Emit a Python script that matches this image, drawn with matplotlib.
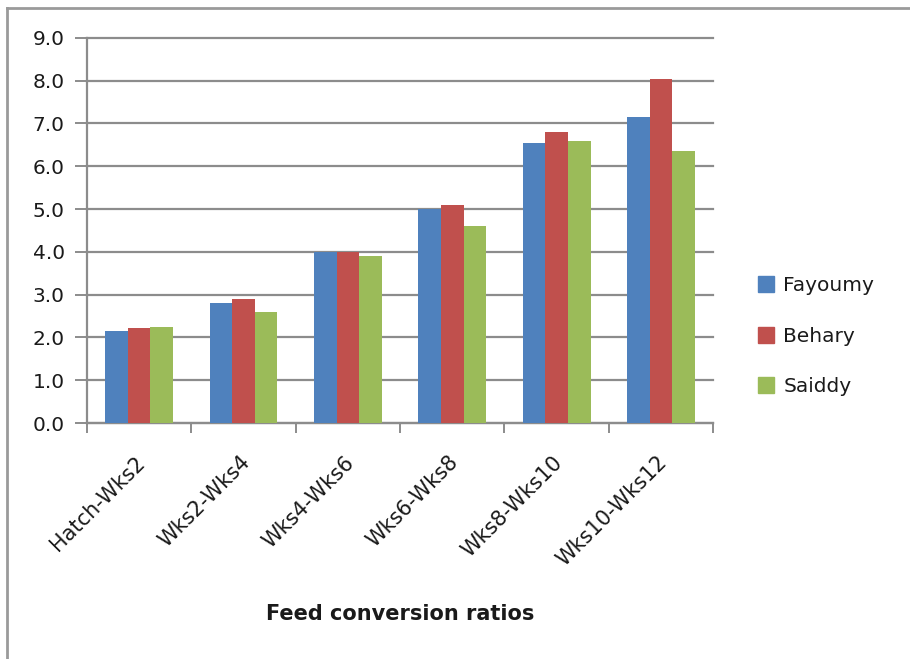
import numpy as np
import matplotlib
matplotlib.use("Agg")
import matplotlib.pyplot as plt
import matplotlib.transforms as mtransforms
from matplotlib.lines import Line2D

# Feed conversion ratio per age period for each breed
periods = ['Hatch-Wks2', 'Wks2-Wks4', 'Wks4-Wks6', 'Wks6-Wks8', 'Wks8-Wks10', 'Wks10-Wks12']
fayoumy = [2.16, 2.80, 4.00, 5.00, 6.55, 7.15]
behary = [2.21, 2.90, 4.00, 5.10, 6.80, 8.05]
saiddy = [2.25, 2.60, 3.90, 4.60, 6.60, 6.35]

series = [('Fayoumy', fayoumy, '#4F81BD'),
          ('Behary', behary, '#C0504D'),
          ('Saiddy', saiddy, '#9BBB59')]

grid_col = '#8C8C8C'
text_col = '#1a1a1a'
fs = 14.5

fig = plt.figure(figsize=(9.1, 6.59), dpi=100)
ax = fig.add_axes([0.0956, 0.358, 0.688, 0.5845])

x = np.arange(len(periods))
w = 0.217
for i, (name, vals, col) in enumerate(series):
    ax.bar(x + (i - 1) * w, vals, width=w, color=col, label=name, zorder=3)

ax.set_xlim(-0.5, len(periods) - 0.5)
ax.set_ylim(0, 9)
ax.set_yticks(np.arange(0, 9.1, 1))
ax.set_yticklabels([f'{v:.1f}' for v in np.arange(0, 9.1, 1)])
ax.yaxis.grid(True, color=grid_col, linewidth=1.6, zorder=0)
for gl in ax.get_ygridlines():
    gl.set_clip_on(False)
ax.tick_params(axis='y', length=9, width=1.4, color=grid_col, labelsize=fs,
               labelcolor=text_col, pad=7)

# category ticks sit on the group boundaries, labels on the group centres
ax.set_xticks(np.arange(len(periods) + 1) - 0.5)
ax.set_xticklabels([])
ax.tick_params(axis='x', length=7, width=1.4, color=grid_col)
ax.set_xticks(x, minor=True)
ax.set_xticklabels(periods, minor=True, rotation=45, ha='right', va='top',
                   rotation_mode='anchor', fontsize=15, color=text_col)
ax.tick_params(axis='x', which='minor', length=0, pad=21)
shift = mtransforms.ScaledTranslation(-4 / 100, 0, fig.dpi_scale_trans)
for lbl in ax.get_xticklabels(minor=True):
    lbl.set_transform(lbl.get_transform() + shift)

for s in ['top', 'right']:
    ax.spines[s].set_visible(False)
for s in ['left', 'bottom']:
    ax.spines[s].set_color(grid_col)
    ax.spines[s].set_linewidth(1.6)

ax.set_xlabel('Feed conversion ratios', fontsize=15, fontweight='bold',
              color=text_col)
ax.xaxis.set_label_coords(0.5, -0.47)

handles = [Line2D([], [], marker='s', linestyle='none', markersize=11,
                  markerfacecolor=c, markeredgecolor=c) for _, _, c in series]
fig.legend(handles, [n for n, _, _ in series], loc='center left',
           bbox_to_anchor=(0.811, 0.49), frameon=False, fontsize=fs,
           labelspacing=1.55, handletextpad=0.35, handlelength=1.0,
           labelcolor=text_col)

# outer chart frame
fig.add_artist(Line2D([0.0077, 0.0077], [0, 0.988], transform=fig.transFigure,
                      color='#9a9a9a', linewidth=2))
fig.add_artist(Line2D([0.0077, 1.0], [0.988, 0.988], transform=fig.transFigure,
                      color='#9a9a9a', linewidth=2))

fig.savefig('out.png', dpi=100, facecolor='white')
